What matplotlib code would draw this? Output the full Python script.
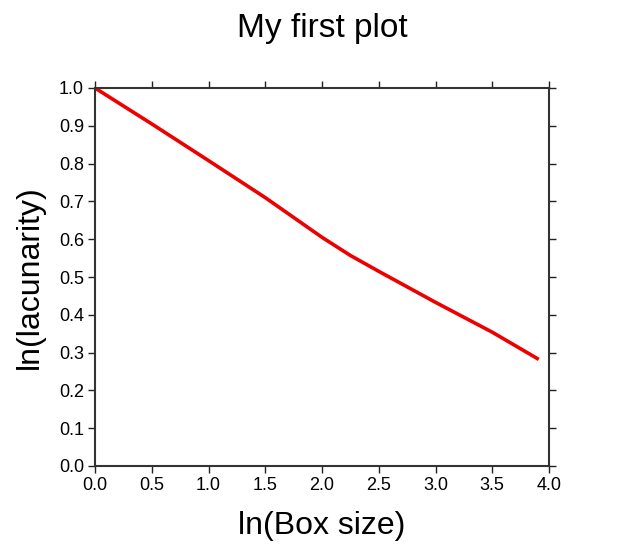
import numpy as np
import matplotlib.pyplot as plt

# data
box_size = [0.0, 0.5, 1.0, 1.5, 2.0, 2.25, 2.5, 3.0, 3.5, 3.91]
lacunarity = [1.0, 0.905, 0.808, 0.71, 0.605, 0.557, 0.515, 0.433, 0.354, 0.282]
x_ticks = [0.0, 0.5, 1.0, 1.5, 2.0, 2.5, 3.0, 3.5, 4.0]
y_ticks = [0.0, 0.1, 0.2, 0.3, 0.4, 0.5, 0.6, 0.7, 0.8, 0.9, 1.0]

plt.rcParams['font.family'] = ['Liberation Sans', 'DejaVu Sans']

fig = plt.figure(figsize=(6.4, 5.48), dpi=100)
ax = fig.add_axes([95/640, 1 - 466/548, (549 - 95)/640, (466 - 88)/548])

ax.plot(box_size, lacunarity, color='#ee0000', lw=2.6, solid_capstyle='butt')

ax.set_xlim(0, 4)
ax.set_ylim(0, 1)
ax.set_xticks(x_ticks)
ax.set_yticks(y_ticks)
ax.set_xticklabels([f'{v:.1f}' for v in x_ticks])
ax.set_yticklabels([f'{v:.1f}' for v in y_ticks])
ax.tick_params(direction='out', length=5, width=1, color='#222222',
               labelsize=13, top=True, right=True, pad=3)
for s in ax.spines.values():
    s.set_linewidth(1.5)
    s.set_color('#333333')

ax.set_xlabel('ln(Box size)', fontsize=23, labelpad=12)
ax.set_ylabel('ln(lacunarity)', fontsize=23, labelpad=10)
fig.text(0.5 * (95 + 549) / 640, 1 - 28/548, 'My first plot', fontsize=24,
         ha='center', va='center')

fig.savefig('out.png', dpi=100)
